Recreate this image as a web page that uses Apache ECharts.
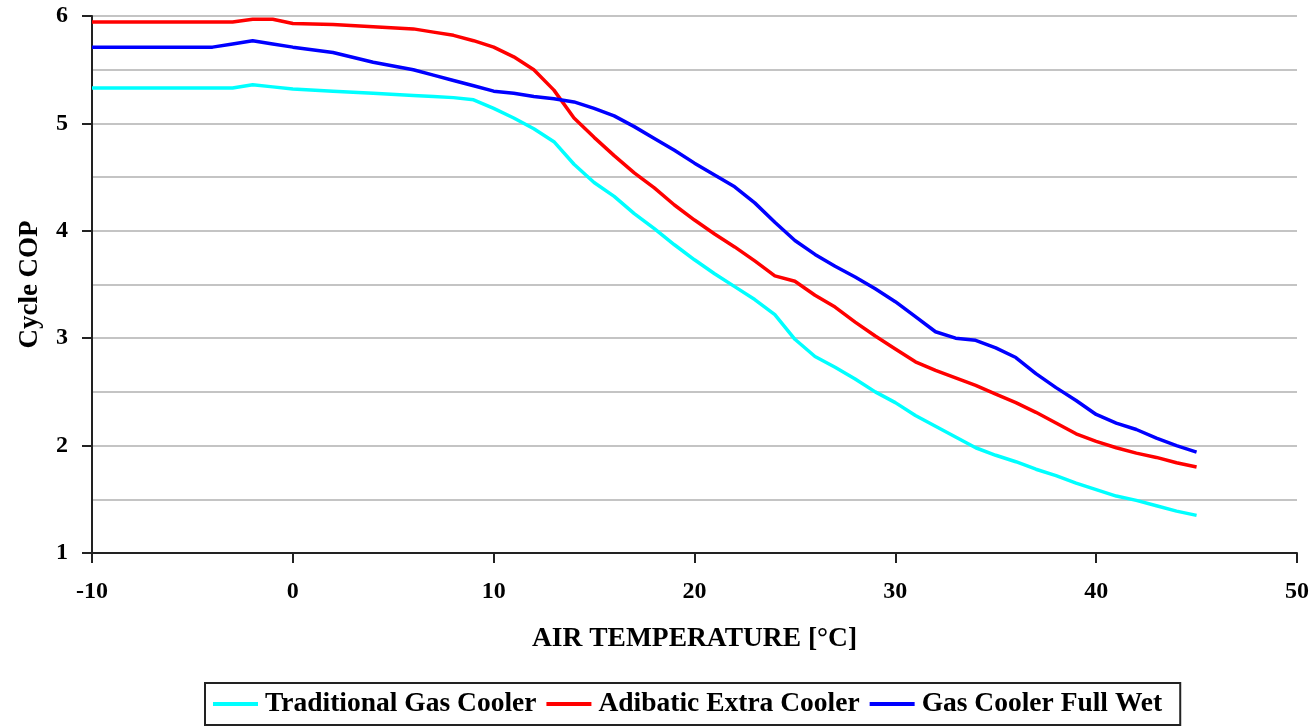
<!DOCTYPE html>
<html>
<head>
<meta charset="utf-8">
<script src="https://cdn.jsdelivr.net/npm/echarts@6/dist/echarts.min.js"></script>
<style>
html,body{margin:0;padding:0;background:#fff;}
#chart{width:1315px;height:726px;}
</style>
</head>
<body>
<div id="chart"></div>
<script>
// Air temperature [°C]
const temps = [-10, -4, -3, -2, -1, 0, 2, 4, 6, 7, 8, 9, 10, 11, 12, 13, 14, 15, 16, 17, 18, 19, 20,
  21, 22, 23, 24, 25, 26, 27, 28, 29, 30, 31, 32, 33, 34, 35, 36, 37, 38, 39, 40, 41, 42, 43, 44, 45];
// Cycle COP
const traditionalGasCooler = [5.33, 5.33, 5.33, 5.36, 5.34, 5.32, 5.30, 5.28, 5.26, 5.25, 5.24, 5.22, 5.14,
  5.05, 4.95, 4.83, 4.62, 4.45, 4.32, 4.16, 4.02, 3.87, 3.73,
  3.60, 3.48, 3.36, 3.22, 2.99, 2.83, 2.73, 2.62, 2.50, 2.40, 2.28, 2.18, 2.08, 1.98, 1.91, 1.85,
  1.78, 1.72, 1.65, 1.59, 1.53, 1.49, 1.44, 1.39, 1.35];
const adiabaticExtraCooler = [5.945, 5.945, 5.945, 5.97, 5.97, 5.93, 5.92, 5.90, 5.88, 5.85, 5.82, 5.77, 5.71,
  5.62, 5.50, 5.31, 5.05, 4.87, 4.70, 4.54, 4.40, 4.24, 4.10,
  3.97, 3.85, 3.72, 3.58, 3.53, 3.40, 3.29, 3.15, 3.02, 2.90, 2.78, 2.70, 2.63, 2.56, 2.48, 2.40,
  2.31, 2.21, 2.11, 2.04, 1.98, 1.93, 1.89, 1.84, 1.80];
const gasCoolerFullWet = [5.71, 5.71, 5.74, 5.77, 5.74, 5.71, 5.66, 5.57, 5.50, 5.45, 5.40, 5.35, 5.30,
  5.28, 5.25, 5.23, 5.20, 5.14, 5.07, 4.97, 4.86, 4.75, 4.63,
  4.52, 4.41, 4.26, 4.08, 3.91, 3.78, 3.67, 3.57, 3.46, 3.34, 3.20, 3.06, 3.00, 2.98, 2.91, 2.82,
  2.67, 2.54, 2.42, 2.29, 2.21, 2.15, 2.07, 2.00, 1.94];
const seriesNames = ['Traditional Gas Cooler', 'Adibatic Extra Cooler', 'Gas Cooler Full Wet'];
const seriesColors = ['#00FFFF', '#FF0000', '#0000FF'];
const seriesValues = [traditionalGasCooler, adiabaticExtraCooler, gasCoolerFullWet];

const FONT = '"Liberation Serif", "Times New Roman", serif';
const chart = echarts.init(document.getElementById('chart'), null, {renderer: 'canvas'});

const option = {
  animation: false,
  backgroundColor: '#ffffff',
  grid: {left: 92, right: 18, top: 16, bottom: 173, containLabel: false},
  legend: {
    left: 205, top: 683,
    itemWidth: 45, itemHeight: 4, itemGap: 10,
    icon: 'rect',
    padding: [7, 18, 7, 8],
    borderColor: '#222', borderWidth: 2,
    textStyle: {fontFamily: FONT, fontWeight: 'bold', fontSize: 27.5, color: '#000', padding: [0, 0, 0, 2]},
    data: seriesNames
  },
  xAxis: {
    type: 'value', min: -10, max: 50, interval: 10,
    name: 'AIR TEMPERATURE [°C]', nameLocation: 'middle', nameGap: 72,
    nameTextStyle: {fontFamily: FONT, fontWeight: 'bold', fontSize: 27.5, color: '#000'},
    axisLine: {show: true, onZero: false, lineStyle: {color: '#222', width: 2}},
    axisTick: {show: true, inside: false, length: 10, lineStyle: {color: '#222', width: 2}},
    axisLabel: {fontFamily: FONT, fontWeight: 'bold', fontSize: 24, color: '#000', margin: 27},
    splitLine: {show: false}
  },
  yAxis: {
    type: 'value', min: 1, max: 6, interval: 1,
    name: 'Cycle COP', nameLocation: 'middle', nameGap: 48,
    nameTextStyle: {fontFamily: FONT, fontWeight: 'bold', fontSize: 27, color: '#000'},
    axisLine: {show: true, onZero: false, lineStyle: {color: '#222', width: 2}},
    axisTick: {show: true, inside: false, length: 10, lineStyle: {color: '#222', width: 2}},
    axisLabel: {fontFamily: FONT, fontWeight: 'bold', fontSize: 24, color: '#000', margin: 24},
    splitLine: {show: true, lineStyle: {color: '#c4c4c4', width: 2}},
    minorTick: {show: true, splitNumber: 2, length: 0, lineStyle: {width: 0}},
    minorSplitLine: {show: true, lineStyle: {color: '#c4c4c4', width: 2}}
  },
  series: seriesNames.map((name, i) => ({
    name: name,
    type: 'line',
    showSymbol: false,
    symbol: 'none',
    color: seriesColors[i],
    lineStyle: {color: seriesColors[i], width: 3.5},
    data: temps.map((t, j) => [t, seriesValues[i][j]])
  }))
};
chart.setOption(option);
</script>
</body>
</html>
